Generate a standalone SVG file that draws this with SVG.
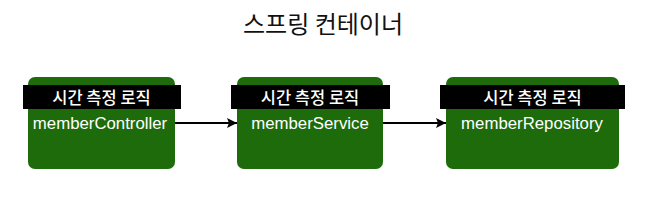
<svg xmlns="http://www.w3.org/2000/svg" width="646" height="220" viewBox="0 0 646 220">
<defs>
<marker id="ah" viewBox="0 0 10 10" refX="10" refY="5" markerWidth="10" markerHeight="10" markerUnits="userSpaceOnUse" orient="auto">
<path d="M0,0 L10,5 L0,10 L2,5 Z" fill="#000"/>
</marker>
<style>
.box{fill:#1e6b0b;}
.bar{fill:#000;}
.ko{font-family:"Noto Sans CJK KR","Noto Sans",sans-serif;fill:#fff;font-size:16.5px;font-weight:500;text-anchor:middle;}
.en{font-family:"Liberation Sans",Arial,sans-serif;fill:#fff;font-size:16.8px;text-anchor:middle;}
.title{font-family:"Noto Sans CJK KR","Noto Sans",sans-serif;fill:#111;font-size:24px;text-anchor:middle;}
.conn{stroke:#000;stroke-width:2;fill:none;}
</style>
</defs>
<rect width="646" height="220" fill="#fff"/>
<text class="title" x="323" y="33">스프링 컨테이너</text>
<g id="memberController">
<rect class="box" x="28" y="77" width="147" height="92" rx="7"/>
<rect class="bar" x="23" y="85" width="158" height="24"/>
<text class="ko" x="101.5" y="103.5">시간 측정 로직</text>
<text class="en" x="100" y="129">memberController</text>
</g>
<g id="memberService">
<rect class="box" x="237" y="77" width="146" height="92" rx="7"/>
<rect class="bar" x="231" y="85" width="159" height="24"/>
<text class="ko" x="310" y="103.5">시간 측정 로직</text>
<text class="en" x="310" y="129">memberService</text>
</g>
<g id="memberRepository">
<rect class="box" x="446" y="77" width="173" height="92" rx="7"/>
<rect class="bar" x="440" y="85" width="185" height="24"/>
<text class="ko" x="532.5" y="103.5">시간 측정 로직</text>
<text class="en" x="532" y="129">memberRepository</text>
</g>
<g id="connectors">
<line class="conn" x1="175" y1="123" x2="237" y2="123" marker-end="url(#ah)"/>
<line class="conn" x1="383" y1="123" x2="446" y2="123" marker-end="url(#ah)"/>
</g>
</svg>
